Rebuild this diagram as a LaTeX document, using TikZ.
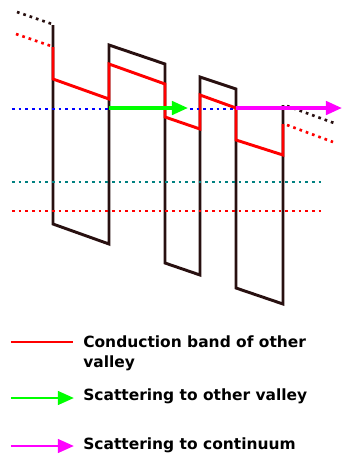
\documentclass[tikz,border=0pt]{standalone}
\usepackage{fontspec}
\setmainfont{DejaVu Sans}
\usetikzlibrary{arrows.meta,positioning}
\definecolor{wallbrown}{RGB}{40,16,16}
\definecolor{levelteal}{RGB}{0,128,128}
\definecolor{pinkarrow}{RGB}{255,0,255}

\begin{document}
\begin{tikzpicture}[x=0.75pt, y=-0.75pt, >={Triangle[length=12pt,width=10pt]},
    wall/.style={wallbrown, line width=2.2pt},
    band/.style={red, line width=2.2pt},
    level/.style={line width=2pt, dash pattern=on 2pt off 3pt},
    every node/.style={font=\bfseries\fontsize{11.6}{15}\selectfont, inner sep=0pt}]
    \useasboundingbox (0,0) rectangle (342,455);

    % Barriers and wells
    \draw[level, wallbrown] (17,12) -- (52,24);
    \draw[wall] (53,25) -- (53,224) -- (109,244) -- (109,45) -- (165,64) -- (165,263)
        -- (200,275) -- (200,77) -- (236,89) -- (236,288) -- (283,304) -- (283,105);
    \draw[level, wallbrown] (287,106) -- (334,123);

    % Band of the other valley
    \draw[level, red] (16,34) -- (51,46);
    \draw[band] (53,47) -- (53,79) -- (109,99) -- (109,64) -- (165,84) -- (165,117)
        -- (200,129) -- (200,95) -- (236,108) -- (236,140) -- (283,155) -- (283,124);
    \draw[level, red] (287,125) -- (333,142);

    % Energy levels
    \draw[level, blue] (12,109) -- (108,109);
    \draw[level, blue] (190,109) -- (236,109);
    \draw[level, levelteal] (12,182) -- (322,182);
    \draw[level, red] (12,211) -- (322,211);

    % Scattering
    \coordinate (greenstart) at (109,108);
    \coordinate (greenend) at (188,108);
    \coordinate (pinkstart) at (236,108);
    \coordinate (pinkend) at (342,108);
    \draw[->, green, line width=2.6pt] (greenstart) -- (greenend);
    \draw[->, pinkarrow, line width=2.6pt] (pinkstart) -- (pinkend);

    % Legend
    \coordinate (keybandA) at (11,342);
    \coordinate (keybandB) at (73,342);
    \coordinate (keygreenA) at (11,398);
    \coordinate (keygreenB) at (74,398);
    \coordinate (keypinkA) at (11,446);
    \coordinate (keypinkB) at (74,446);
    \draw[band] (keybandA) -- (keybandB);
    \draw[->, green, line width=2.2pt] (keygreenA) -- (keygreenB);
    \draw[->, pinkarrow, line width=2.2pt] (keypinkA) -- (keypinkB);
    \node[anchor=base west, align=left] (lgband) at (83,367) {Conduction band of other\\valley};
    \node[anchor=base west] (lggreen) at (83,400) {Scattering to other valley};
    \node[anchor=base west] (lgpink) at (83,449) {Scattering to continuum};
\end{tikzpicture}
\end{document}
